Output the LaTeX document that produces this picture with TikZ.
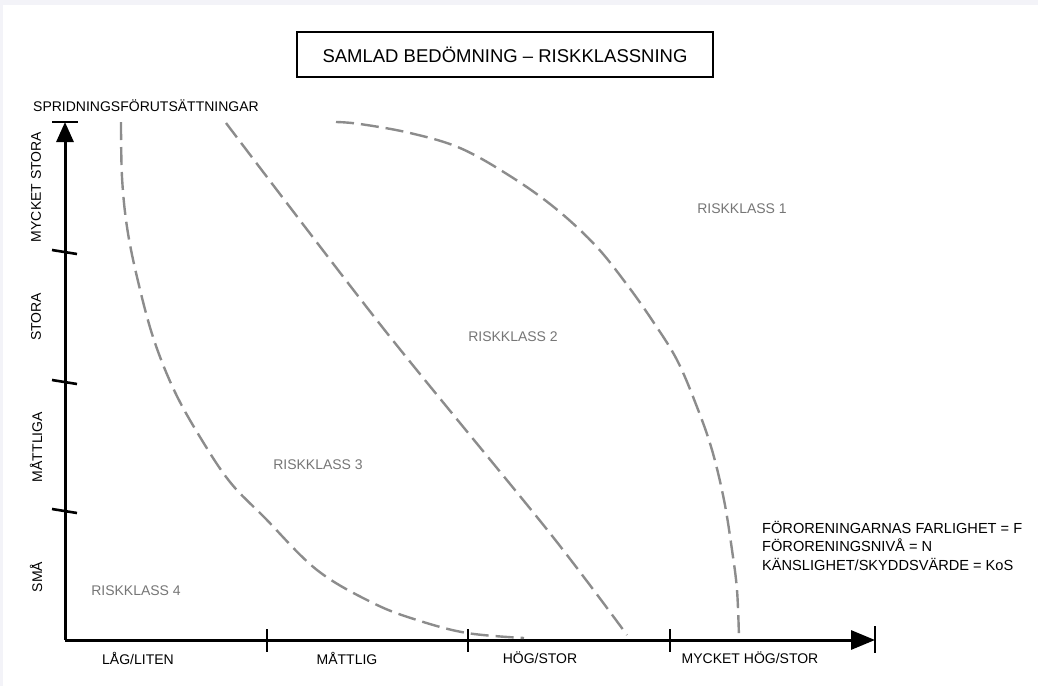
\documentclass[tikz,border=0pt]{standalone}
\usepackage{fontspec}
\setmainfont{Liberation Sans}
\usepackage{tikz}
\usetikzlibrary{arrows.meta, positioning}
\definecolor{riskgray}{RGB}{140,140,140}
\definecolor{klassgray}{RGB}{118,118,118}
\definecolor{bgstrip}{RGB}{243,243,248}

\begin{document}
\begin{tikzpicture} [x = 1pt, y = -1pt, font = \fontsize{14}{17}\selectfont,
	axisline/.style = {line width = 3pt},
	tickmark/.style = {line width = 2.6pt},
	riskline/.style = {riskgray, line width = 2.4pt, dash pattern = on 18pt off 7pt},
	klass/.style = {klassgray, inner sep = 0pt},
	axlabel/.style = {black, inner sep = 0pt},
	legend/.style = {black, anchor = west, inner sep = 0pt, font = \fontsize{14.6}{17}\selectfont}]
			% Page and margins
			\useasboundingbox (0,0) rectangle (1038,686);
			\fill [bgstrip] (0,0) rectangle (1038,686);
			\fill [white] (3,5) rectangle (1038,686);

			% Title box
			\node (title) [draw, line width = 2pt, minimum width = 416pt, minimum height = 45pt,
			font = \fontsize{18.5}{22}\selectfont] at (505,54.5) {SAMLAD BEDÖMNING – RISKKLASSNING};

			% Axes : every tick is measured from the origin
			\coordinate (origin) at (65,640);
			\coordinate (ytop) at (65,122);
			\coordinate (xend) at (875,640);
			\draw [axisline, -{Triangle[length = 20pt, width = 17pt]}] (origin) -- (ytop);
			\draw [axisline, -{Triangle[length = 24pt, width = 19pt]}] (origin) -- (xend);
			\draw [tickmark] (ytop) ++(-13,0) -- ++(26,0);
			\draw [tickmark] (xend) ++(0,-14) -- ++(0,27);
			\foreach \yy in {252, 382, 511}
				\draw [tickmark] (65,\yy) ++(-13,-2) -- ++(25,4);
			\foreach \xx in {267, 468, 670}
				\draw [tickmark] (\xx,629) -- (\xx,652);

			% Axis texts
			\node (spread) [axlabel, anchor = west] at (33,106) {SPRIDNINGSFÖRUTSÄTTNINGAR};
			\node (yvbig) [axlabel, rotate = 90] at (36,187) {MYCKET STORA};
			\node (ybig) [axlabel, rotate = 90] at (36,317) {STORA};
			\node (ymid) [axlabel, rotate = 90] at (36,447) {MÅTTLIGA};
			\node (ysmall) [axlabel, rotate = 90] at (36,577) {SMÅ};
			\node (xlow) [axlabel] at (138,658) {LÅG/LITEN};
			\node (xmid) [axlabel] at (347,658) {MÅTTLIG};
			\node (xhigh) [axlabel] at (540,658) {HÖG/STOR};
			\node (xvhigh) [axlabel] at (750,658) {MYCKET HÖG/STOR};

			% Class borders
			\draw [riskline] plot [smooth, tension = 0.6] coordinates {(121,122) (122,177) (127,227) (137,277)
			(153,337) (174,390) (200,437) (230,482) (265,518) (317,570) (373,603) (417,620) (467,633) (524,638)};
			\draw [riskline] plot [smooth, tension = 0.5] coordinates {(226,123) (383,328) (549,532) (627,635)};
			\draw [riskline] plot [smooth, tension = 0.6] coordinates {(336,122) (360,124) (410,133) (460,148)
			(510,176) (555,208) (595,245) (625,282) (652,320) (677,360) (697,407) (712,450) (724,500)
			(732,550) (737,590) (739,638)};

			% Risk classes
			\node (rk1) [klass] at (742,209) {RISKKLASS 1};
			\node (rk2) [klass] at (513,337) {RISKKLASS 2};
			\node (rk3) [klass] at (318,465) {RISKKLASS 3};
			\node (rk4) [klass] at (136,591) {RISKKLASS 4};

			% Legend
			\node (legF) [legend] at (762,527) {FÖRORENINGARNAS FARLIGHET = F};
			\node (legN) [legend, below = 18.5pt of legF.west, anchor = west] {FÖRORENINGSNIVÅ = N};
			\node (legK) [legend, below = 18.5pt of legN.west, anchor = west] {KÄNSLIGHET/SKYDDSVÄRDE = KoS};
		\end{tikzpicture}
\end{document}
